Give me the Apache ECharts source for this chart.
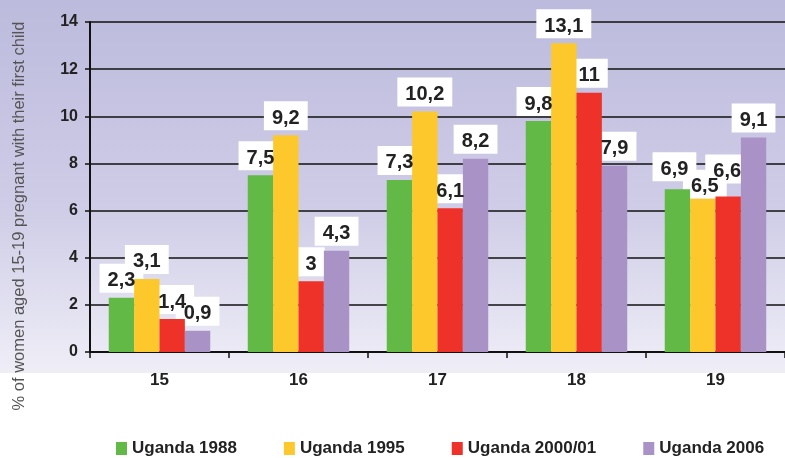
<!DOCTYPE html>
<html>
<head>
<meta charset="utf-8">
<script src="https://cdn.jsdelivr.net/npm/echarts@6/dist/echarts.min.js"></script>
<style>
  html, body { margin: 0; padding: 0; background: #fff; }
  #chart { width: 785px; height: 458px; }
</style>
</head>
<body>
<div id="chart"></div>
<script>
const ages = ['15', '16', '17', '18', '19']
const seriesNames = ['Uganda 1988', 'Uganda 1995', 'Uganda 2000/01', 'Uganda 2006']
const uganda1988 = [2.3, 7.5, 7.3, 9.8, 6.9]
const uganda1995 = [3.1, 9.2, 10.2, 13.1, 6.5]
const uganda2000 = [1.4, 3, 6.1, 11, 6.6]
const uganda2006 = [0.9, 4.3, 8.2, 7.9, 9.1]
const colors = ['#62b946', '#fdc82b', '#ee3229', '#a993c6']
const yTicks = [0, 2, 4, 6, 8, 10, 12, 14]

// labels in the crowded 19 group are nudged like in the original
const labelShift = { '0-4': [-3, -3], '1-4': [2, 5], '2-4': [-1, -8] }

const chart = echarts.init(document.getElementById('chart'), undefined, { renderer: 'canvas' })

const values = [uganda1988, uganda1995, uganda2000, uganda2006]
const fmt = (p) => String(p.value).replace('.', ',')
const labelFont = {
  fontFamily: 'Liberation Sans, Arial, sans-serif',
  fontWeight: 'bold',
  fontSize: 20,
  lineHeight: 20,
  padding: [7, 8, 2, 8],
}

function withShift(data, i) {
  return data.map((v, j) => {
    const shift = labelShift[i + '-' + j]
    return shift ? { value: v, label: { offset: shift } } : v
  })
}

// three layers: white label boxes under the bars, the bars, the label text on top
const boxes = values.map((data, i) => ({
  name: 'box' + i,
  type: 'bar',
  xAxisIndex: 1,
  z: 1,
  silent: true,
  data: withShift(data, i),
  barGap: '0%',
  barCategoryGap: '27%',
  itemStyle: { color: 'rgba(0,0,0,0)' },
  label: Object.assign({
    show: true, position: 'top', distance: 5, formatter: fmt,
    color: 'rgba(0,0,0,0)', backgroundColor: '#fff',
  }, labelFont),
  animation: false,
}))

const bars = values.map((data, i) => ({
  name: seriesNames[i],
  type: 'bar',
  xAxisIndex: 0,
  z: 2,
  data,
  barGap: '0%',
  barCategoryGap: '27%',
  itemStyle: { color: colors[i] },
  animation: false,
}))

const texts = values.map((data, i) => ({
  name: 'text' + i,
  type: 'bar',
  xAxisIndex: 2,
  z: 3,
  silent: true,
  data: withShift(data, i),
  barGap: '0%',
  barCategoryGap: '27%',
  itemStyle: { color: 'rgba(0,0,0,0)' },
  label: Object.assign({
    show: true, position: 'top', distance: 5, formatter: fmt, color: '#222',
  }, labelFont),
  animation: false,
}))

const hiddenX = { type: 'category', data: ages, show: false }

chart.setOption({
  backgroundColor: '#fff',
  graphic: [
    {
      type: 'rect',
      z: -10,
      silent: true,
      shape: { x: 0, y: 0, width: 785, height: 373 },
      style: {
        fill: new echarts.graphic.LinearGradient(0, 0, 0, 1, [
          { offset: 0, color: '#bdbbdd' },
          { offset: 0.55, color: '#cecce6' },
          { offset: 1, color: '#efeef7' },
        ]),
      },
    },
    {
      type: 'text',
      x: 19,
      y: 216,
      rotation: Math.PI / 2,
      style: {
        text: '% of women aged 15-19 pregnant with their first child',
        fill: '#555',
        font: '16.5px "Liberation Sans", Arial, sans-serif',
        align: 'center',
        verticalAlign: 'middle',
      },
    },
  ],
  grid: { left: 90, right: -4, top: 22, bottom: 106 },
  legend: {
    data: seriesNames,
    left: 111,
    top: 435,
    itemWidth: 11,
    itemHeight: 13,
    itemGap: 47,
    icon: 'rect',
    textStyle: {
      fontFamily: '"Liberation Sans", Arial, sans-serif',
      fontWeight: 'bold',
      fontSize: 17,
      lineHeight: 17,
      color: '#222',
    },
  },
  xAxis: [
    {
      type: 'category',
      data: ages,
      axisLine: { lineStyle: { color: '#111', width: 2 } },
      axisTick: { show: true, length: 6, lineStyle: { color: '#111', width: 1.5 } },
      axisLabel: {
        margin: 20,
        color: '#222',
        fontFamily: 'Liberation Sans, Arial, sans-serif',
        fontWeight: 'bold',
        fontSize: 17,
      },
    },
    hiddenX,
    hiddenX,
  ],
  yAxis: {
    type: 'value',
    min: yTicks[0],
    max: yTicks[yTicks.length - 1],
    interval: 2,
    axisLine: { show: true, lineStyle: { color: '#111', width: 2 } },
    axisTick: { show: true, length: 5, lineStyle: { color: '#111', width: 1.5 } },
    axisLabel: {
      margin: 12,
      color: '#222',
      fontFamily: 'Liberation Sans, Arial, sans-serif',
      fontWeight: 'bold',
      fontSize: 16,
    },
    splitLine: { show: true, lineStyle: { color: '#111', width: 1.5 } },
  },
  series: [...boxes, ...bars, ...texts],
})
</script>
</body>
</html>
